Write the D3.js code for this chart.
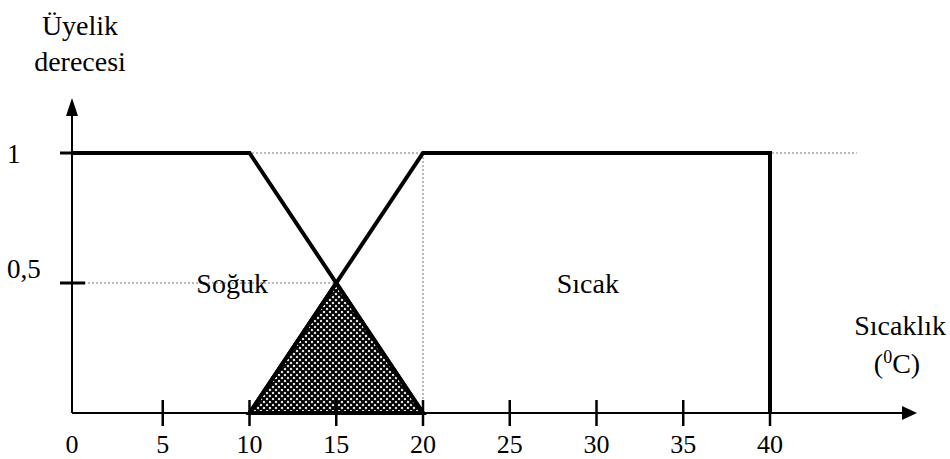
<!DOCTYPE html>
<html><head><meta charset="utf-8">
<script src="https://cdn.jsdelivr.net/npm/d3@7/dist/d3.min.js"></script>
<style>body{margin:0;background:#fff}svg{display:block}</style>
</head><body>
<svg id="c" width="950" height="459"></svg>
<script>
// data
const xTicks = [0,5,10,15,20,25,30,35,40];
const yTicks = [0.5,1];
const yTickLabels = ["0,5","1"];
const sogukPts = [[0,1],[10,1],[20,0]];
const sicakPts = [[10,0],[20,1],[40,1],[40,0]];
const overlapPts = [[10,0],[15,0.5],[20,0]];
const setLabels = [{name:"Soğuk", x:9, y:0.5},{name:"Sıcak", x:29.5, y:0.5}];
const yTitle = ["Üyelik","derecesi"];
const xTitle = "Sıcaklık";

const FONT = '"Liberation Serif"';
const svg = d3.select("#c");
const x = d3.scaleLinear().domain([0,40]).range([76,770]);
const y = d3.scaleLinear().domain([0,1]).range([413,153]);
const X0 = 72;

const defs = svg.append("defs");
const pat = defs.append("pattern").attr("id","dots").attr("patternUnits","userSpaceOnUse")
  .attr("width",6).attr("height",6);
pat.append("rect").attr("width",6).attr("height",6).attr("fill","#fff");
[[3,3],[0,0],[6,0],[0,6],[6,6]].forEach(([cx,cy])=>{
  pat.append("circle").attr("cx",cx).attr("cy",cy).attr("r",2.3)
    .attr("fill","none").attr("stroke","#000").attr("stroke-width",1.6);
});

const line = d3.line().x(d=>x(d[0])).y(d=>y(d[1]));

// dotted guides
function dl(x1,y1,x2,y2){svg.append("line").attr("x1",x1).attr("y1",y1).attr("x2",x2).attr("y2",y2)
  .attr("stroke","#777").attr("stroke-width",1).attr("stroke-dasharray","2,2");}
dl(X0,y(1),x(45),y(1));
dl(X0,y(0.5),x(15),y(0.5));
dl(x(20),y(1),x(20),y(0));

// overlap triangle
svg.append("path").attr("d",line(overlapPts)+"Z").attr("fill","url(#dots)")
  .attr("stroke","#000").attr("stroke-width",4).attr("stroke-linejoin","miter");

// axes
svg.append("line").attr("x1",X0).attr("y1",y(0)).attr("x2",905).attr("y2",y(0)).attr("stroke","#000").attr("stroke-width",2);
svg.append("path").attr("d",`M917,${y(0)} L902,${y(0)-7} L902,${y(0)+7} Z`).attr("fill","#000");
svg.append("line").attr("x1",X0).attr("y1",y(0)).attr("x2",X0).attr("y2",112).attr("stroke","#000").attr("stroke-width",2);
svg.append("path").attr("d",`M${X0},98 L${X0-6},116 L${X0+6},116 Z`).attr("fill","#000");

// x ticks
svg.selectAll(".xt").data(xTicks.filter(d=>d>0)).join("line")
  .attr("x1",d=>x(d)).attr("x2",d=>x(d)).attr("y1",y(0)-13).attr("y2",y(0)+13)
  .attr("stroke","#000").attr("stroke-width",2.5);
svg.selectAll(".xl").data(xTicks).join("text")
  .attr("x",d=>d===0?X0:x(d)).attr("y",453).attr("text-anchor","middle")
  .style("font-family",FONT).attr("font-size",26).text(d=>d);

// y ticks
svg.selectAll(".yt").data(yTicks).join("line")
  .attr("x1",X0-12).attr("x2",X0+13).attr("y1",d=>y(d)).attr("y2",d=>y(d))
  .attr("stroke","#000").attr("stroke-width",3);
svg.selectAll(".yl").data(yTicks).join("text")
  .attr("x",7).attr("y",d=>y(d)+(d===1?10:-5))
  .style("font-family",FONT).attr("font-size",27).text((d,i)=>yTickLabels[i]);

// membership lines
svg.append("path").attr("d",line(sogukPts)).attr("fill","none").attr("stroke","#000").attr("stroke-width",4).attr("stroke-linejoin","miter");
svg.append("path").attr("d",line(sicakPts)).attr("fill","none").attr("stroke","#000").attr("stroke-width",4).attr("stroke-linejoin","miter");
svg.append("line").attr("x1",X0).attr("x2",x(0)).attr("y1",y(1)).attr("y2",y(1)).attr("stroke","#000").attr("stroke-width",4);

// set labels
svg.selectAll(".sl").data(setLabels).join("text")
  .attr("x",d=>x(d.x)).attr("y",d=>y(d.y)+10).attr("text-anchor","middle")
  .style("font-family",FONT).attr("font-size",28).text(d=>d.name);

// titles
svg.selectAll(".yttl").data(yTitle).join("text")
  .attr("x",80).attr("y",(d,i)=>35+i*36).attr("text-anchor","middle")
  .style("font-family",FONT).attr("font-size",28).text(d=>d);
svg.append("text").attr("x",946).attr("y",335).attr("text-anchor","end")
  .style("font-family",FONT).attr("font-size",28).text(xTitle);
const u = svg.append("text").attr("x",897).attr("y",373).attr("text-anchor","middle")
  .style("font-family",FONT).attr("font-size",28);
u.append("tspan").text("(");
u.append("tspan").attr("font-size",18).attr("dy",-10).text("0");
u.append("tspan").attr("dy",10).text("C)");
</script>
</body></html>
